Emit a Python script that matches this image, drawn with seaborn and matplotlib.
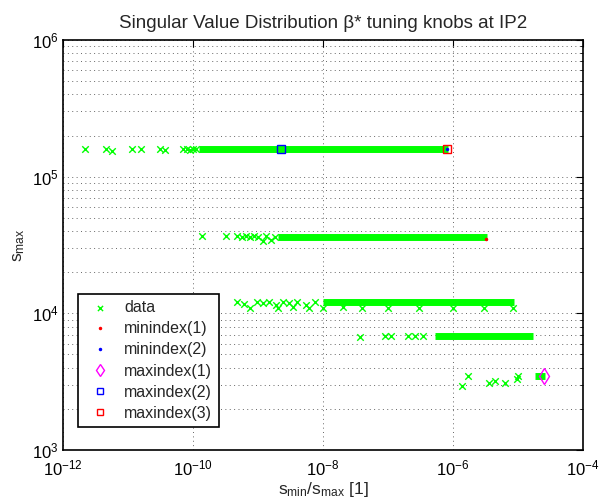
import numpy as np
import seaborn as sns
import matplotlib.pyplot as plt
from matplotlib.ticker import FixedLocator, LogLocator, NullFormatter

# scattered "data" points (x = s_min/s_max, y = s_max)
data_x = [2.2e-12, 4.6e-12, 5.6e-12, 1.15e-11, 1.6e-11, 3.1e-11, 3.7e-11,
          7.1e-11, 8.0e-11, 9.0e-11, 1.0e-10, 1.1e-10,
          1.4e-10, 3.2e-10, 4.8e-10, 5.6e-10, 6.5e-10, 7.6e-10, 8.8e-10,
          1.0e-09, 1.2e-09, 1.35e-09, 1.6e-09, 1.8e-09,
          4.8e-10, 6.0e-10, 7.5e-10, 9.5e-10, 1.2e-09, 1.5e-09, 1.9e-09, 2.4e-09,
          3.0e-09, 4.0e-09, 5.5e-09, 7.5e-09,
          2.0e-09, 3.5e-09, 6.0e-09, 1.0e-08, 2.0e-08, 4.0e-08, 1.0e-07,
          3.0e-07, 1.0e-06, 3.0e-06, 8.5e-06,
          3.7e-08, 9.0e-08, 1.1e-07, 2.0e-07, 2.6e-07, 3.4e-07,
          1.4e-06, 1.7e-06, 3.6e-06, 4.5e-06, 6.3e-06, 9.6e-06, 1.0e-05]
data_y = [1.6e5, 1.6e5, 1.55e5, 1.6e5, 1.6e5, 1.6e5, 1.58e5,
          1.6e5, 1.6e5, 1.58e5, 1.6e5, 1.6e5,
          3.65e4, 3.65e4, 3.65e4, 3.6e4, 3.65e4, 3.6e4, 3.65e4,
          3.6e4, 3.4e4, 3.65e4, 3.45e4, 3.6e4,
          1.22e4, 1.18e4, 1.1e4, 1.22e4, 1.2e4, 1.22e4, 1.15e4, 1.22e4,
          1.2e4, 1.22e4, 1.15e4, 1.22e4,
          1.1e4, 1.12e4, 1.1e4, 1.1e4, 1.12e4, 1.1e4, 1.1e4,
          1.1e4, 1.1e4, 1.1e4, 1.1e4,
          6.7e3, 6.8e3, 6.8e3, 6.85e3, 6.8e3, 6.8e3,
          2.95e3, 3.45e3, 3.1e3, 3.2e3, 3.1e3, 3.3e3, 3.5e3]

# dense runs of data points, drawn as solid bands
band_lo = [1.25e-10, 2.0e-09, 1.0e-08, 5.2e-07, 1.8e-05]
band_hi = [8.3e-07, 3.3e-06, 8.8e-06, 1.7e-05, 2.6e-05]
band_y = [1.6e5, 3.6e4, 1.21e4, 6.8e3, 3.45e3]

# special indices
min1_x, min1_y = [3.25e-06], [3.5e4]
min2_x, min2_y = [8.2e-07], [1.6e5]
max1_x, max1_y = [2.5e-05], [3.45e3]
max2_x, max2_y = [2.25e-09], [1.6e5]
max3_x, max3_y = [8.2e-07], [1.6e5]

xtick_vals = [1e-12, 1e-10, 1e-8, 1e-6, 1e-4]
ytick_vals = [1e3, 1e4, 1e5, 1e6]

sns.set_style("white")
plt.rcParams['font.family'] = ['Liberation Sans', 'DejaVu Sans']
plt.rcParams['mathtext.fontset'] = 'custom'
plt.rcParams['mathtext.rm'] = 'Liberation Sans'
plt.rcParams['mathtext.it'] = 'Liberation Sans'

fig = plt.figure(figsize=(5.99, 4.98), dpi=100)
ax = fig.add_axes([63 / 599, 48 / 498, 520 / 599, 410 / 498])
ax.set_xscale('log')
ax.set_yscale('log')

green = '#00ff00'
ax.hlines(band_y, band_lo, band_hi, color=green, lw=5, zorder=2)
sns.scatterplot(x=data_x, y=data_y, marker='x', color=green, s=22,
                linewidth=1, ax=ax, label='data', zorder=3)
ax.plot(min1_x, min1_y, '.', color='red', ms=3, label='minindex(1)', zorder=4)
ax.plot(min2_x, min2_y, '.', color='blue', ms=3, label='minindex(2)', zorder=4)
ax.plot(max1_x, max1_y, 'd', mfc='none', mec='magenta', ms=8, mew=1,
        label='maxindex(1)', zorder=5)
ax.plot(max2_x, max2_y, 's', mfc='none', mec='blue', ms=5.5, mew=1,
        label='maxindex(2)', zorder=5)
ax.plot(max3_x, max3_y, 's', mfc='none', mec='red', ms=5.5, mew=1,
        label='maxindex(3)', zorder=5)

ax.set_xlim(1e-12, 1e-4)
ax.set_ylim(1e3, 1e6)
ax.xaxis.set_major_locator(FixedLocator(xtick_vals))
ax.xaxis.set_minor_locator(FixedLocator([1e-11, 1e-9, 1e-7, 1e-5]))
ax.xaxis.set_minor_formatter(NullFormatter())
ax.yaxis.set_major_locator(FixedLocator(ytick_vals))
ax.yaxis.set_minor_locator(LogLocator(base=10, subs=np.arange(2, 10)))
ax.yaxis.set_minor_formatter(NullFormatter())

ax.grid(True, which='major', axis='both', ls=(0, (1, 3.5)), color='#666666', lw=0.7)
ax.grid(True, which='minor', axis='y', ls=(0, (1, 3.5)), color='#666666', lw=0.7)
ax.tick_params(which='both', direction='in', top=True, right=True,
               labelsize=12, colors='black')
ax.tick_params(which='major', length=5, width=0.8)
ax.tick_params(which='minor', length=2.5, width=0.6)
ax.tick_params(axis='x', which='minor', length=0)
ax.tick_params(axis='x', which='major', pad=6)
ax.tick_params(axis='y', which='major', pad=3)
for s in ax.spines.values():
    s.set_color('black')
    s.set_linewidth(1.2)

ax.set_title('Singular Value Distribution β* tuning knobs at IP2',
             fontsize=13.5, pad=9)
ax.set_xlabel(r'$\mathregular{s_{min}/s_{max}}$ [1]', fontsize=12.5, labelpad=1)
ax.set_ylabel(r'$\mathregular{s_{max}}$', fontsize=12.5, labelpad=4)

leg = ax.legend(loc='lower left', bbox_to_anchor=(0.029, 0.056),
                borderaxespad=0, fontsize=11.5, fancybox=False,
                framealpha=1, edgecolor='black', handlelength=2.0,
                handletextpad=0.5, labelspacing=0.38, borderpad=0.4)
leg.get_frame().set_linewidth(1.2)
hs = leg.legend_handles
hs[0].set_sizes([14])
hs[3].set_markersize(6)
hs[4].set_markersize(4.5)
hs[5].set_markersize(4.5)

fig.savefig('out.png', dpi=100)
